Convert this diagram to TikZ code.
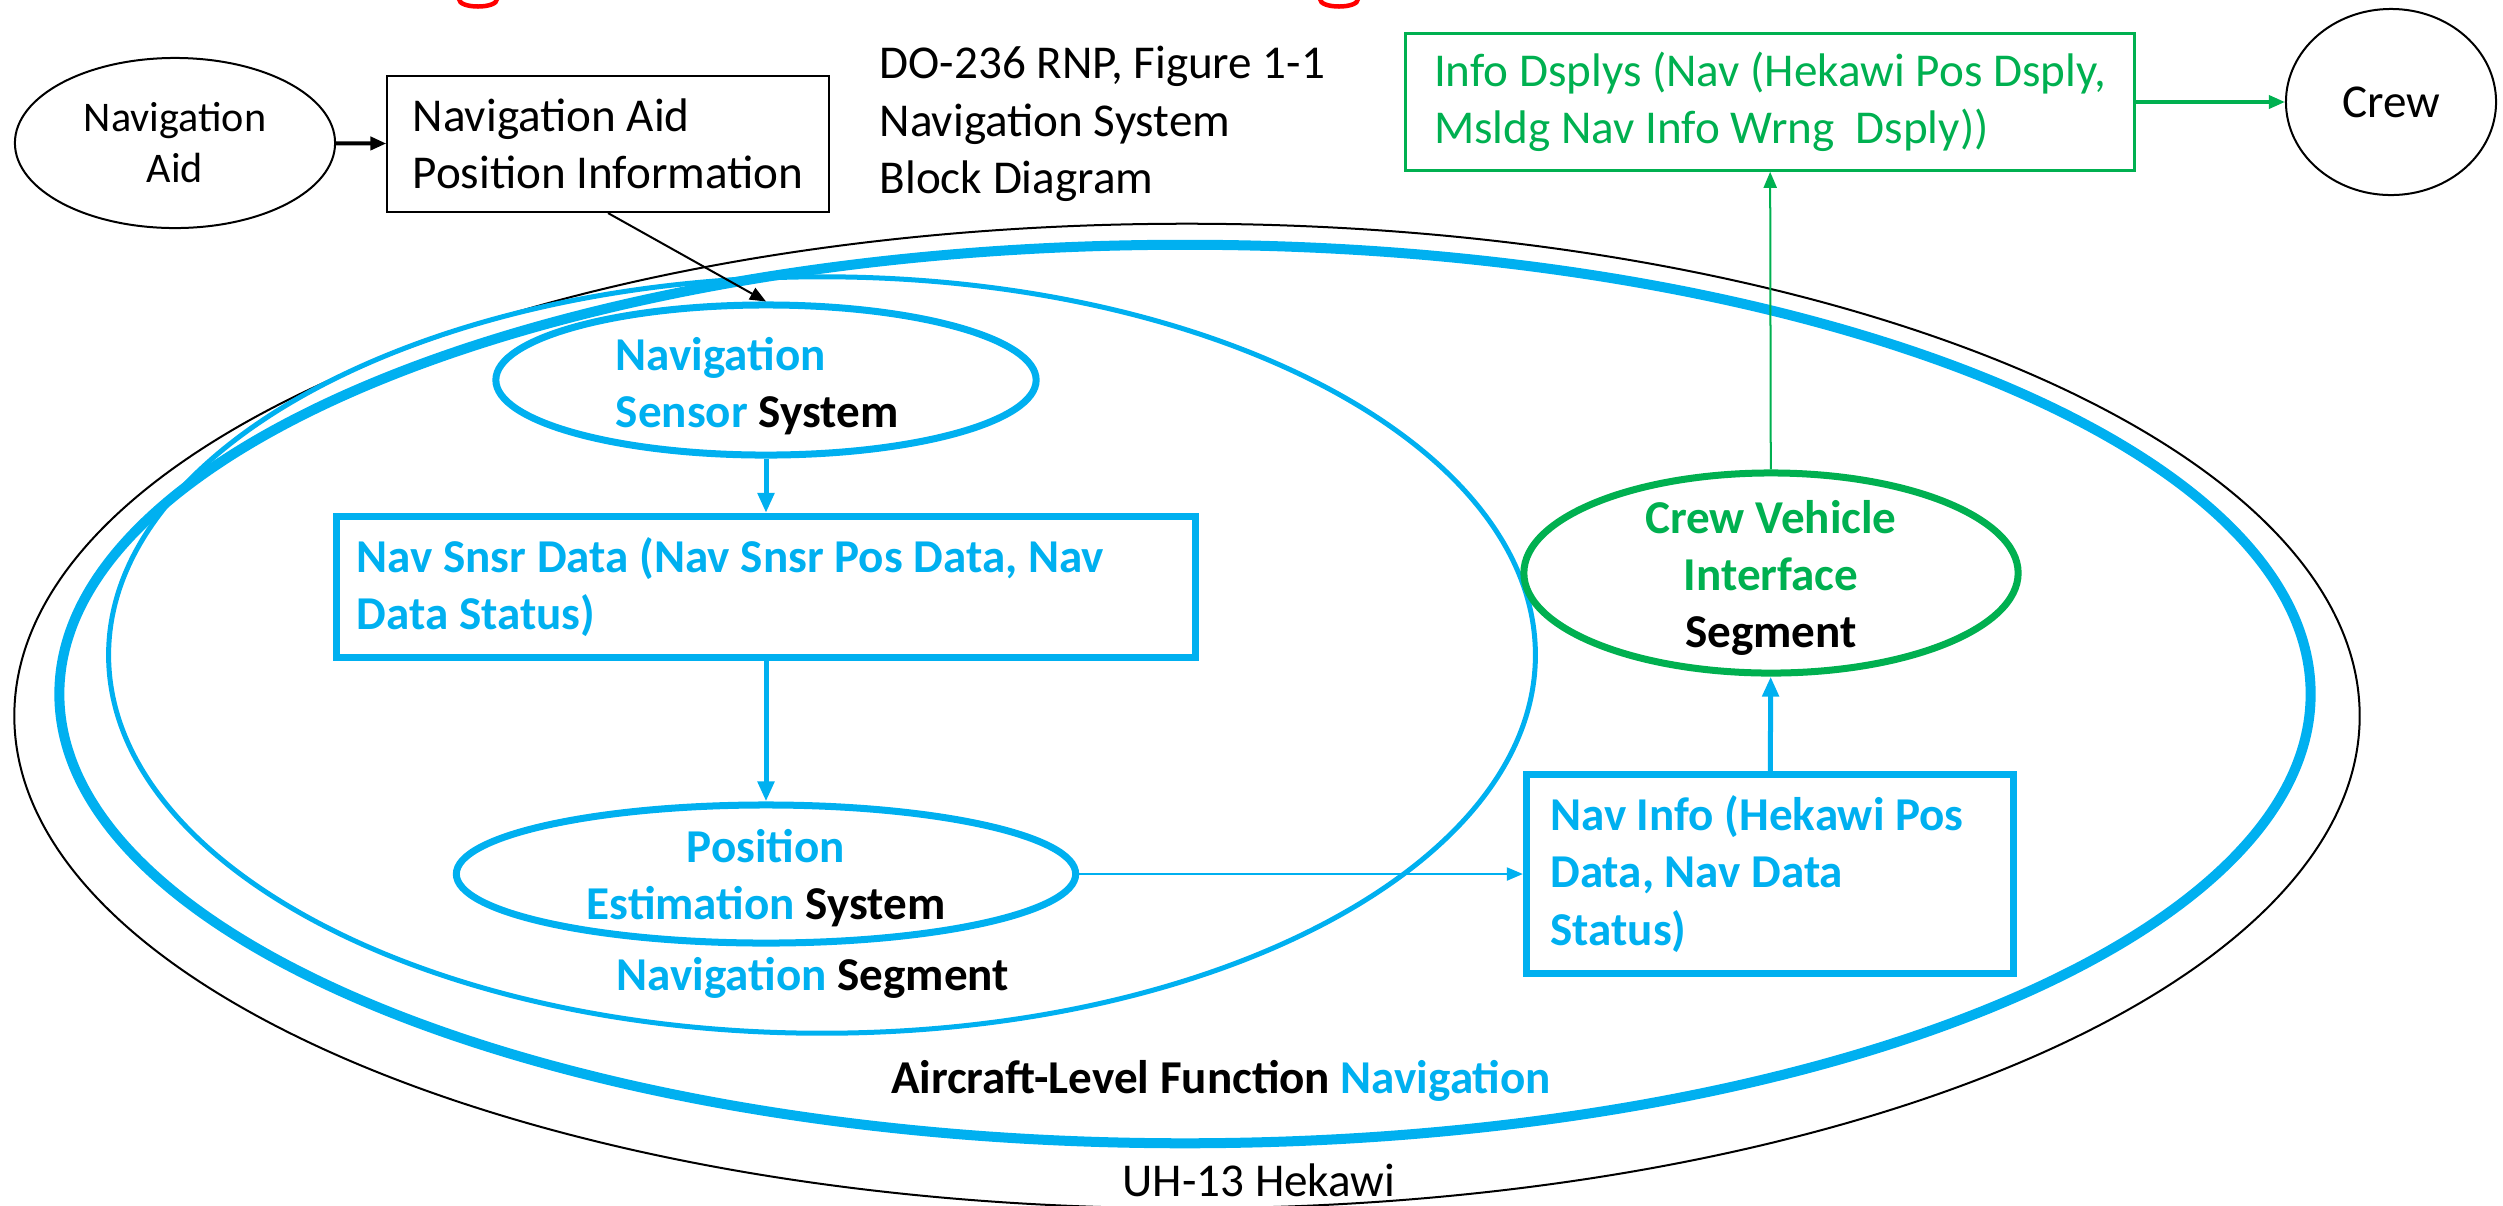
\documentclass[tikz,border=0pt]{standalone}
\usepackage{fontspec}
\setmainfont{Carlito}
\usetikzlibrary{arrows.meta,shapes.geometric}
\definecolor{navblue}{RGB}{0,176,240}
\definecolor{navgreen}{RGB}{0,176,80}
\definecolor{titlered}{RGB}{255,0,0}

\begin{document}
\begin{tikzpicture}[x=0.01cm, y=-0.01cm,
    every node/.style={font=\fontsize{13.4pt}{16.3pt}\selectfont, inner sep=0pt},
    hdr/.style={font=\fontsize{13.4pt}{16.3pt}\selectfont\bfseries},
    infobox/.style={draw, rectangle, align=flush left},
    oval/.style={draw, ellipse},
    blueflow/.style={draw=navblue, line width=0.05cm, -{Triangle[length=0.2cm, width=0.16cm]}},
    thinflow/.style={line width=0.02cm, -{Triangle[length=0.16cm, width=0.13cm]}}]
    \useasboundingbox (0,0) rectangle (2503,1205);

    % outer rings
    \node[oval, line width=0.02cm, minimum width=23.44cm, minimum height=9.84cm] (hekawi) at (1187,716) {};
    \node[oval, draw=navblue, line width=0.1cm, minimum width=22.5cm, minimum height=8.98cm] (aircraft) at (1185,694) {};
    \node[oval, draw=navblue, line width=0.05cm, minimum width=14.26cm, minimum height=7.56cm] (navseg) at (822,655) {};

    % what is left of the title
    \draw[titlered, line width=0.045cm] (459,-1) .. controls (459,9) and (497,9) .. (497,-1);
    \draw[titlered, line width=0.045cm] (1320,-1) .. controls (1320,9) and (1358,9) .. (1358,-1);

    % top row
    \node[oval, line width=0.02cm, minimum width=3.2cm, minimum height=1.7cm, align=center,
          font=\fontsize{12pt}{14.5pt}\selectfont] (navaid) at (175,143) {Navigation\\Aid};
    \node[infobox, line width=0.02cm, minimum width=4.41cm, minimum height=1.36cm] (aidinfo) at (608,144) {Navigation Aid\\Position Information};
    \node[anchor=west, align=left] (doref) at (879,124) {DO-236 RNP, Figure 1-1\\Navigation System\\Block Diagram};
    \node[infobox, draw=navgreen, text=navgreen, line width=0.025cm, minimum width=7.29cm, minimum height=1.37cm] (infodisp) at (1770,102) {Info Dsplys (Nav (Hekawi Pos Dsply,\\Msldg Nav Info Wrng\ \ Dsply))};
    \node[oval, line width=0.02cm, minimum width=2.1cm, minimum height=1.86cm] (crew) at (2391,102) {Crew};

    % navigation segment
    \node[oval, draw=navblue, line width=0.07cm, minimum width=5.4cm, minimum height=1.5cm] (navsensor) at (766,380) {};
    \node[hdr, align=left, text=navblue] (navsensortext) at (757,386) {Navigation\\Sensor \textcolor{black}{System}};
    \node[infobox, hdr, draw=navblue, text=navblue, line width=0.07cm, text width=8.18cm, inner xsep=0.2cm, minimum height=1.41cm] (snsrdata) at (766,587) {Nav Snsr Data (Nav Snsr Pos Data, Nav\\Data Status)};
    \node[oval, draw=navblue, line width=0.07cm, minimum width=6.19cm, minimum height=1.38cm] (posest) at (766,874) {};
    \node[hdr, align=center, text=navblue] (posesttext) at (766,878) {Position\\Estimation \textcolor{black}{System}};
    \node[hdr, text=navblue] (navseglabel) at (813,978) {Navigation \textcolor{black}{Segment}};

    % crew vehicle interface
    \node[oval, draw=navgreen, line width=0.07cm, minimum width=4.94cm, minimum height=2.0cm] (crewvi) at (1771,573) {};
    \node[hdr, align=center, text=navgreen] (crewvitext) at (1771,578) {Crew Vehicle\\Interface\\\textcolor{black}{Segment}};
    \node[infobox, hdr, draw=navblue, text=navblue, line width=0.07cm, text width=4.39cm, inner xsep=0.24cm, minimum height=1.99cm] (navinfo) at (1770,874) {Nav Info (Hekawi Pos\\Data, Nav Data\\Status)};

    \node[hdr] (aircraftlabel) at (1221,1081) {Aircraft-Level Function \textcolor{navblue}{Navigation}};
    \node (hekawilabel) at (1259,1180) {UH-13 Hekawi};

    % flows
    \draw[thinflow, line width=0.04cm] (navaid) -- (aidinfo);
    \draw[thinflow] (aidinfo.south) -- (navsensor.north);
    \draw[blueflow] (navsensor) -- (snsrdata);
    \draw[blueflow] (snsrdata) -- (posest);
    \draw[thinflow, navblue] (posest) -- (navinfo);
    \draw[blueflow] (navinfo) -- (crewvi);
    \draw[thinflow, navgreen] (crewvi) -- (infodisp);
    \draw[thinflow, navgreen, line width=0.035cm] (infodisp) -- (crew);
\end{tikzpicture}
\end{document}
